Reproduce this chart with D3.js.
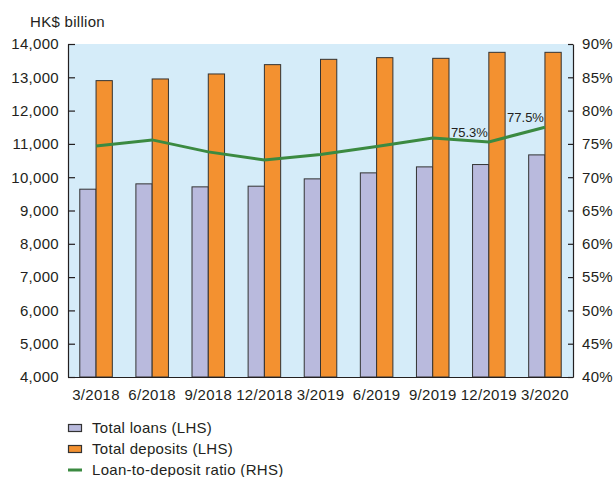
<!DOCTYPE html>
<html>
<head>
<meta charset="utf-8">
<script src="https://cdn.jsdelivr.net/npm/d3@7"></script>
<style>
  body { margin: 0; background: #fff; }
  svg text { font-family: "Liberation Sans", Arial, sans-serif; fill: #231f20; letter-spacing: 0.3px; }
</style>
</head>
<body>
<div id="chart"></div>
<script>
/**
 * Data
 */
const categories = ["3/2018", "6/2018", "9/2018", "12/2018", "3/2019", "6/2019", "9/2019", "12/2019", "3/2020"];
const totalLoans = [9640, 9800, 9710, 9730, 9950, 10130, 10310, 10380, 10670];
const totalDeposits = [12900, 12950, 13100, 13380, 13540, 13590, 13570, 13750, 13750];
const ldRatio = [74.7, 75.6, 73.8, 72.6, 73.4, 74.6, 75.9, 75.3, 77.5];
const leftTicks = [4000, 5000, 6000, 7000, 8000, 9000, 10000, 11000, 12000, 13000, 14000];
const rightTicks = [40, 45, 50, 55, 60, 65, 70, 75, 80, 85, 90];
const annotated = ["12/2019", "3/2020"];
const legendItems = ["Total loans (LHS)", "Total deposits (LHS)", "Loan-to-deposit ratio (RHS)"];

const width = 616, height = 477,
    margin = { top: 44, bottom: 100, left: 68, right: 43 },
    fontSize = 15,
    colors = { loans: "#b9badd", deposits: "#f39130", line: "#3b8a41", bg: "#d5ecf9", stroke: "#333333" };

const svg = d3.select("#chart")
    .append("svg")
    .attr("width", width)
    .attr("height", height);

// SCALES
const xScale = d3.scaleBand()
    .domain(categories)
    .range([margin.left, width - margin.right])
    .paddingInner(0)
    .paddingOuter(0);

const yLeft = d3.scaleLinear()
    .domain([4000, 14000])
    .range([height - margin.bottom, margin.top]);

const yRight = d3.scaleLinear()
    .domain([40, 90])
    .range([height - margin.bottom, margin.top]);

const barW = xScale.bandwidth() * 0.29;

// plot background
svg.append("rect")
    .attr("x", margin.left)
    .attr("y", margin.top)
    .attr("width", width - margin.left - margin.right)
    .attr("height", height - margin.top - margin.bottom)
    .attr("fill", colors.bg);

// bars
svg.selectAll("rect.loan")
    .data(categories)
    .join("rect")
    .attr("class", "loan")
    .attr("x", d => xScale(d) + xScale.bandwidth() / 2 - barW)
    .attr("y", (d, i) => yLeft(totalLoans[i]))
    .attr("width", barW)
    .attr("height", (d, i) => yLeft(4000) - yLeft(totalLoans[i]))
    .attr("fill", colors.loans)
    .attr("stroke", colors.stroke)
    .attr("stroke-width", 1);

svg.selectAll("rect.deposit")
    .data(categories)
    .join("rect")
    .attr("class", "deposit")
    .attr("x", d => xScale(d) + xScale.bandwidth() / 2)
    .attr("y", (d, i) => yLeft(totalDeposits[i]))
    .attr("width", barW)
    .attr("height", (d, i) => yLeft(4000) - yLeft(totalDeposits[i]))
    .attr("fill", colors.deposits)
    .attr("stroke", colors.stroke)
    .attr("stroke-width", 1);

// ratio line
const lineFunc = d3.line()
    .x((d, i) => xScale(categories[i]) + xScale.bandwidth() / 2)
    .y(d => yRight(d));

svg.append("path")
    .datum(ldRatio)
    .attr("d", lineFunc)
    .attr("fill", "none")
    .attr("stroke", colors.line)
    .attr("stroke-width", 3);

// annotations
svg.selectAll("text.anno")
    .data(annotated)
    .join("text")
    .attr("class", "anno")
    .attr("x", d => xScale(d) + xScale.bandwidth() / 2 - 1)
    .attr("y", d => yRight(ldRatio[categories.indexOf(d)]) - 5)
    .attr("text-anchor", "end")
    .attr("font-size", 13)
    .style("letter-spacing", "0px")
    .text(d => ldRatio[categories.indexOf(d)].toFixed(1) + "%");

// AXES
const leftAxis = svg.append("g")
    .attr("transform", `translate(${margin.left},0)`)
    .call(d3.axisLeft(yLeft).tickValues(leftTicks).tickFormat(d3.format(",")).tickSizeInner(-7).tickSizeOuter(0).tickPadding(9));

const rightAxis = svg.append("g")
    .attr("transform", `translate(${width - margin.right},0)`)
    .call(d3.axisRight(yRight).tickValues(rightTicks).tickFormat(d => d + "%").tickSizeInner(-5).tickSizeOuter(0).tickPadding(9));

const bottomAxis = svg.append("g")
    .attr("transform", `translate(0,${height - margin.bottom})`)
    .call(d3.axisBottom(xScale).tickSize(0).tickPadding(12));

[leftAxis, rightAxis, bottomAxis].forEach(g => {
    g.selectAll("path, line").attr("stroke", "#231f20").attr("stroke-width", 1.2);
    g.selectAll("text").attr("font-size", fontSize).attr("font-family", "Liberation Sans, Arial, sans-serif").attr("fill", "#231f20");
});

// axis title
svg.append("text")
    .attr("x", 30)
    .attr("y", 27)
    .attr("font-size", fontSize)
    .text("HK$ billion");

// LEGEND
const legend = svg.append("g")
    .attr("transform", "translate(68,428)");

const rows = legend.selectAll("g")
    .data(legendItems)
    .join("g")
    .attr("transform", (d, i) => `translate(0,${i * 21})`);

rows.filter((d, i) => i < 2)
    .append("rect")
    .attr("x", 0.5)
    .attr("y", -3.5)
    .attr("width", 13)
    .attr("height", 7)
    .attr("fill", (d, i) => i === 0 ? colors.loans : colors.deposits)
    .attr("stroke", colors.stroke)
    .attr("stroke-width", 1.2);

rows.filter((d, i) => i === 2)
    .append("line")
    .attr("x1", 0)
    .attr("x2", 14)
    .attr("y1", 0)
    .attr("y2", 0)
    .attr("stroke", colors.line)
    .attr("stroke-width", 3);

rows.append("text")
    .attr("x", 24)
    .attr("y", 5)
    .attr("font-size", fontSize)
    .text(d => d);
</script>
</body>
</html>
